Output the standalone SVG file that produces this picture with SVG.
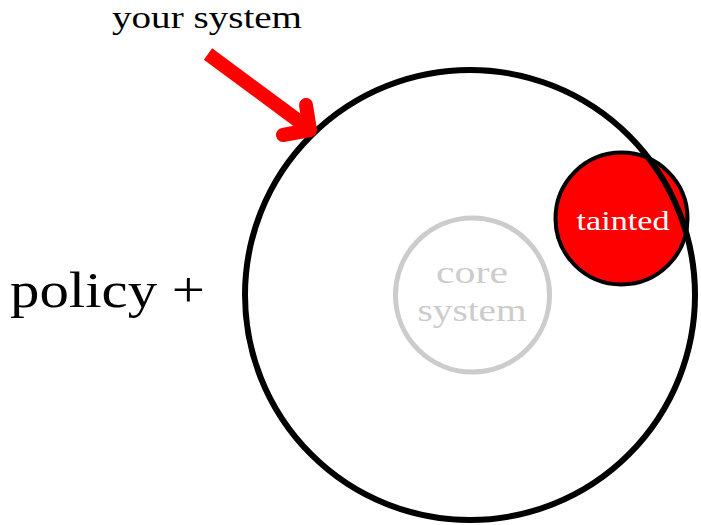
<svg xmlns="http://www.w3.org/2000/svg" width="701" height="525" viewBox="0 0 701 525">
<style>
.t{font-family:"Liberation Serif","DejaVu Serif",serif;}
</style>
<rect width="701" height="525" fill="#fff"/>
<g id="tainted">
<circle cx="621.5" cy="218.5" r="66" fill="#ff0000" stroke="#000" stroke-width="4"/>
<text class="t" x="623" y="230" font-size="27" fill="#fff" text-anchor="middle" textLength="93" lengthAdjust="spacingAndGlyphs">tainted</text>
</g>
<g id="your-system">
<circle cx="470" cy="295" r="225" fill="none" stroke="#000" stroke-width="6"/>
<text class="t" x="207" y="28" font-size="32" fill="#000" text-anchor="middle" textLength="190" lengthAdjust="spacingAndGlyphs">your system</text>
</g>
<g id="core-system">
<circle cx="472.5" cy="295" r="77" fill="none" stroke="#cccccc" stroke-width="5"/>
<text class="t" x="472" y="283" font-size="32" fill="#cccccc" text-anchor="middle" textLength="72" lengthAdjust="spacingAndGlyphs">core</text>
<text class="t" x="472" y="321" font-size="32" fill="#cccccc" text-anchor="middle" textLength="109" lengthAdjust="spacingAndGlyphs">system</text>
</g>
<g id="policy">
<text class="t" x="10" y="307" font-size="50" fill="#000" textLength="195" lengthAdjust="spacingAndGlyphs">policy +</text>
</g>
<g id="connectors" stroke="#ff0000" fill="none" stroke-width="14">
<line x1="208" y1="54" x2="304" y2="125"/>
<polyline points="306,105 310,130 283,135" stroke-linecap="round" stroke-linejoin="round"/>
</g>
</svg>
